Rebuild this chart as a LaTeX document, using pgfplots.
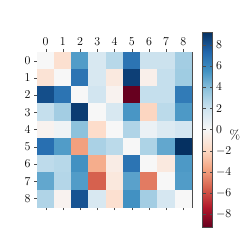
\documentclass[border=0pt]{standalone}
\usepackage{pgfplots}
\pgfplotsset{compat=1.18}
\pgfplotsset{colormap={RdBu}{rgb255=(103,0,31) rgb255=(178,24,43) rgb255=(214,96,77) rgb255=(244,165,130) rgb255=(253,219,199) rgb255=(247,247,247) rgb255=(209,229,240) rgb255=(146,197,222) rgb255=(67,147,195) rgb255=(33,102,172) rgb255=(5,48,97)}}
\begin{document}
\begin{tikzpicture}
\begin{axis}[
  at={(0,0)}, anchor=south west,
  scale only axis, width=155pt, height=155pt,
  xmin=-0.5, xmax=8.5, ymin=-0.5, ymax=8.5,
  y dir=reverse,
  xtick={0,...,8}, ytick={0,...,8},
  xtick pos=both, ytick pos=left,
  xticklabel pos=upper,
  tick align=outside,
  major tick length=3pt,
  tick style={black!70},
  axis line style={black!70},
  tick label style={font=\fontsize{11.5}{13}\selectfont},
  colormap name=RdBu,
  point meta min=-9.2, point meta max=9.2,
  colorbar,
  colorbar style={
    scale only axis,
    width=10pt, height=195pt,
    at={(parent axis.east)}, anchor=west, xshift=2pt,
    ytick={-8,-6,...,8},
    major tick length=3pt,
    tick style={black!70},
    axis line style={black!70},
    tick label style={font=\fontsize{11.5}{13}\selectfont},
  },
]
\addplot[matrix plot*, mesh/cols=9, point meta=explicit] table[meta=c] {
x y c
0 0 0
1 0 -1.5
2 0 5.2
3 0 1.5
4 0 2.6
5 0 6.8
6 0 2
7 0 2
8 0 3.2
0 1 -1.3
1 1 0
2 1 6.8
3 1 1.5
4 1 -0.9
5 1 8.7
6 1 -0.5
7 1 2.2
8 1 3.3
0 2 8.2
1 2 6.8
2 2 0
3 2 1.8
4 2 -0.3
5 2 -9.2
6 2 2.2
7 2 2.2
8 2 6.5
0 3 2.2
1 3 3.2
2 3 8.8
3 3 0
4 3 1.5
5 3 5.4
6 3 -2
7 3 2.5
8 3 5.3
0 4 -0.3
1 4 0.4
2 4 3.8
3 4 -1.7
4 4 0
5 4 2.8
6 4 0.6
7 4 1.3
8 4 1.7
0 5 7
1 5 5.2
2 5 -3.8
3 5 3
4 5 2.5
5 5 0
6 5 2.9
7 5 4.8
8 5 9.2
0 6 2.4
1 6 2.6
2 6 5.6
3 6 -3.4
4 6 -0.7
5 6 6.8
6 6 0
7 6 -0.9
8 6 5.3
0 7 4.8
1 7 2.7
2 7 5.2
3 7 -5.5
4 7 -1
5 7 5
6 7 -4.8
7 7 0
8 7 5.2
0 8 2.8
1 8 -0.3
2 8 8
3 8 1.5
4 8 -1.5
5 8 5.6
6 8 3.2
7 8 1.6
8 8 0
};
\end{axis}
\node[font=\fontsize{13}{15}\selectfont] at (198pt,72pt) {\%};
\path (-37pt,-42pt) rectangle (212pt,207pt);
\end{tikzpicture}
\end{document}
